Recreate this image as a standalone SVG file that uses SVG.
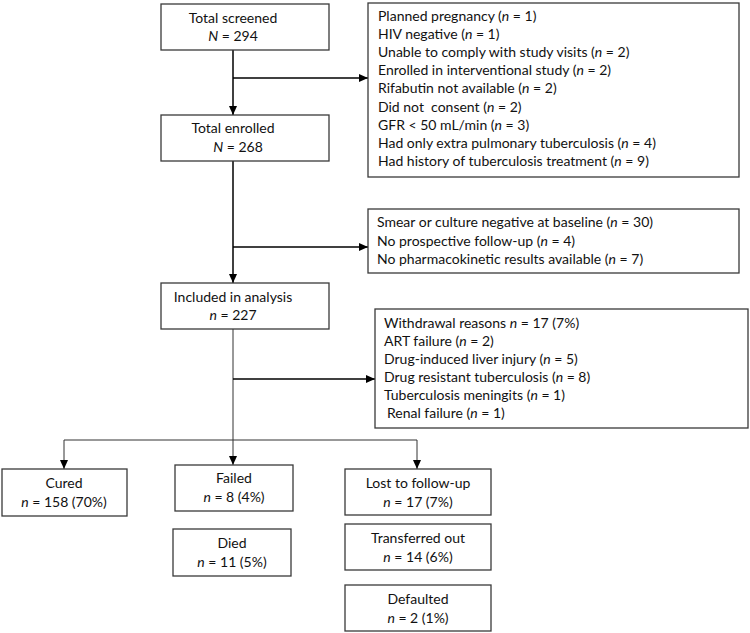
<svg xmlns="http://www.w3.org/2000/svg" width="750" height="633" viewBox="0 0 750 633">
<style>
text{font-family:Lato,"Liberation Sans",sans-serif;font-size:14px;fill:#111}
.c{text-anchor:middle}
.box{fill:#fff;stroke:#3a3a3a;stroke-width:1.3}
.ln{fill:none;stroke:#000;stroke-width:1.5}
.thin{fill:none;stroke:#333;stroke-width:1}
tspan.i{font-style:italic}
</style>
<defs>
<marker id="ah" markerUnits="userSpaceOnUse" markerWidth="9" markerHeight="8" refX="9" refY="4" orient="auto">
<path d="M0,0 L9,4 L0,8 z" fill="#000"/>
</marker>
</defs>
<rect width="750" height="633" fill="#fff"/>
<g id="connectors">
<path class="ln" d="M233,50 V115" marker-end="url(#ah)"/>
<path class="ln" d="M233,78 H368" marker-end="url(#ah)"/>
<path class="ln" d="M233,161 V283" marker-end="url(#ah)"/>
<path class="ln" d="M233,247 H368" marker-end="url(#ah)"/>
<path class="thin" d="M233,329 V465" marker-end="url(#ah)"/>
<path class="ln" d="M233,379 H375" marker-end="url(#ah)"/>
<path class="thin" d="M64,440 H417"/>
<path class="thin" d="M64,440 V469" marker-end="url(#ah)"/>
<path class="thin" d="M417,440 V469" marker-end="url(#ah)"/>
</g>
<g id="screened">
<rect class="box" x="161" y="4" width="168" height="46"/>
<text class="c" x="233" y="23">Total screened</text>
<text class="c" x="233" y="41"><tspan class="i">N</tspan> = 294</text>
</g>
<g id="excluded1">
<rect class="box" x="368" y="3" width="371" height="174"/>
<text x="378" y="20.5">Planned pregnancy (<tspan class="i">n</tspan> = 1)</text>
<text x="378" y="38.7">HIV negative (<tspan class="i">n</tspan> = 1)</text>
<text x="378" y="56.9">Unable to comply with study visits (<tspan class="i">n</tspan> = 2)</text>
<text x="378" y="75.1">Enrolled in interventional study (<tspan class="i">n</tspan> = 2)</text>
<text x="378" y="93.3">Rifabutin not available (<tspan class="i">n</tspan> = 2)</text>
<text x="378" y="111.5" xml:space="preserve">Did not  consent (<tspan class="i">n</tspan> = 2)</text>
<text x="378" y="129.7">GFR &lt; 50 mL/min (<tspan class="i">n</tspan> = 3)</text>
<text x="378" y="147.9">Had only extra pulmonary tuberculosis (<tspan class="i">n</tspan> = 4)</text>
<text x="378" y="166.1">Had history of tuberculosis treatment (<tspan class="i">n</tspan> = 9)</text>
</g>
<g id="enrolled">
<rect class="box" x="161" y="115" width="168" height="46"/>
<text class="c" x="233" y="133">Total enrolled</text>
<text class="c" x="238" y="152"><tspan class="i">N</tspan> = 268</text>
</g>
<g id="excluded2">
<rect class="box" x="368" y="209" width="371" height="64"/>
<text x="377" y="227">Smear or culture negative at baseline (<tspan class="i">n</tspan> = 30)</text>
<text x="377" y="246">No prospective follow-up (<tspan class="i">n</tspan> = 4)</text>
<text x="377" y="264">No pharmacokinetic results available (<tspan class="i">n</tspan> = 7)</text>
</g>
<g id="included">
<rect class="box" x="161" y="283" width="168" height="46"/>
<text class="c" x="233" y="302">Included in analysis</text>
<text class="c" x="233" y="320"><tspan class="i">n</tspan> = 227</text>
</g>
<g id="withdrawal">
<rect class="box" x="375" y="309" width="373" height="119"/>
<text x="384" y="328">Withdrawal reasons <tspan class="i">n</tspan> = 17 (7%)</text>
<text x="384" y="346">ART failure (<tspan class="i">n</tspan> = 2)</text>
<text x="384" y="364">Drug-induced liver injury (<tspan class="i">n</tspan> = 5)</text>
<text x="384" y="382">Drug resistant tuberculosis (<tspan class="i">n</tspan> = 8)</text>
<text x="384" y="400">Tuberculosis meningits (<tspan class="i">n</tspan> = 1)</text>
<text x="387" y="418">Renal failure (<tspan class="i">n</tspan> = 1)</text>
</g>
<g id="cured">
<rect class="box" x="2" y="469" width="125" height="47"/>
<text class="c" x="64" y="488">Cured</text>
<text class="c" x="64" y="507"><tspan class="i">n</tspan> = 158 (70%)</text>
</g>
<g id="failed">
<rect class="box" x="175" y="465" width="118" height="46"/>
<text class="c" x="234" y="483">Failed</text>
<text class="c" x="234" y="502"><tspan class="i">n</tspan> = 8 (4%)</text>
</g>
<g id="died">
<rect class="box" x="173" y="529" width="118" height="47"/>
<text class="c" x="232" y="548">Died</text>
<text class="c" x="232" y="567"><tspan class="i">n</tspan> = 11 (5%)</text>
</g>
<g id="lost">
<rect class="box" x="345" y="469" width="146" height="46"/>
<text class="c" x="418" y="488">Lost to follow-up</text>
<text class="c" x="418" y="507"><tspan class="i">n</tspan> = 17 (7%)</text>
</g>
<g id="transferred">
<rect class="box" x="345" y="524" width="146" height="46"/>
<text class="c" x="418" y="543">Transferred out</text>
<text class="c" x="418" y="562"><tspan class="i">n</tspan> = 14 (6%)</text>
</g>
<g id="defaulted">
<rect class="box" x="345" y="585" width="146" height="46"/>
<text class="c" x="418" y="604">Defaulted</text>
<text class="c" x="418" y="623"><tspan class="i">n</tspan> = 2 (1%)</text>
</g>
</svg>
